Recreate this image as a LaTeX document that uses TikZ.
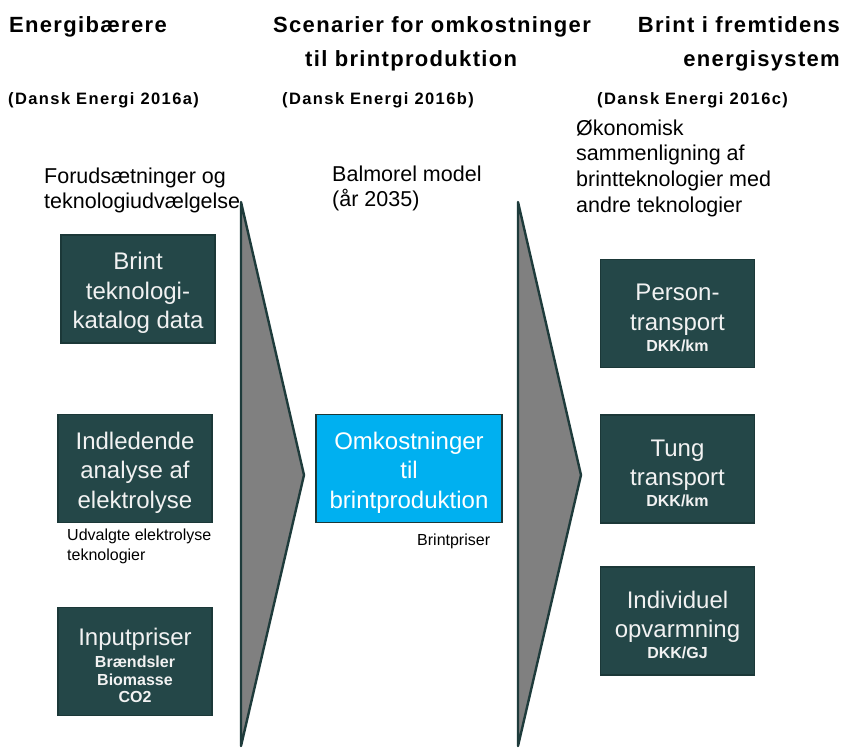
\documentclass[tikz,border=0pt]{standalone}
\usepackage{fontspec}
\setmainfont{Liberation Sans}
\newfontfamily\headfont[LetterSpace=6]{Liberation Sans}
\newfontfamily\srcfont[LetterSpace=8.5]{Liberation Sans}

\definecolor{boxfill}{HTML}{244748}
\definecolor{boxedge}{HTML}{1B3838}
\definecolor{boxtext}{HTML}{F2F2F2}
\definecolor{hcyan}{HTML}{00B0F0}
\definecolor{arrowfill}{HTML}{808080}
\definecolor{arrowedge}{HTML}{1E3B3B}

% small bold unit line inside a box
\newcommand{\subfont}{\fontsize{16}{17.5}\selectfont\bfseries}
% extra height on a box's first line, pushing its text block down a little
\newcommand{\topstrut}{\rule{0pt}{25.5pt}}

\begin{document}
\begin{tikzpicture}[x=1pt,y=-1pt,
  title/.style={inner sep=0pt, font=\headfont\bfseries\fontsize{22}{25}\selectfont},
  source/.style={inner sep=0pt, font=\srcfont\bfseries\fontsize{16.5}{19}\selectfont},
  note/.style={inner sep=0pt, anchor=north west, align=left, font=\fontsize{21.5}{25.7}\selectfont},
  smallnote/.style={inner sep=0pt, align=left, font=\fontsize{16}{20}\selectfont},
  darkbox/.style={draw=boxedge, fill=boxfill, line width=1.2pt, text=boxtext,
    minimum width=154pt, minimum height=108pt, inner sep=0pt, align=center,
    font=\fontsize{24}{29.5}\selectfont},
  cyanbox/.style={darkbox, fill=hcyan, minimum width=186pt, text=white},
  stagearrow/.style={draw=arrowedge, fill=arrowfill, line width=2.4pt, line join=round}
]
\useasboundingbox[fill=white] (0,0) rectangle (842,749);

% stage arrows
\draw[stagearrow] (241,202) -- (304,475) -- (241,746) -- cycle;
\draw[stagearrow] (518,202) -- (581,475) -- (518,746) -- cycle;

% column titles
\node[title, anchor=base west] (t1) at (9,32.5) {Energibærere};
\node[title, anchor=base west] (t2a) at (273,32.5) {Scenarier for omkostninger};
\node[title, anchor=base west] (t2b) at (305,67) {til brintproduktion};
\node[title, anchor=base east] (t3a) at (840,32.5) {Brint i fremtidens};
\node[title, anchor=base east] (t3b) at (840,67) {energisystem};

\node[source, anchor=base west] (s1) at (8,105) {(Dansk Energi 2016a)};
\node[source, anchor=base west] (s2) at (282,105) {(Dansk Energi 2016b)};
\node[source, anchor=base west] (s3) at (597,105) {(Dansk Energi 2016c)};

% column notes
\node[note] (n1) at (44,167.5) {Forudsætninger og\\teknologiudvælgelse};
\node[note] (n2) at (332,165.5) {Balmorel model\\(år 2035)};
\node[note] (n3) at (576,119.5) {Økonomisk\\sammenligning af\\brintteknologier med\\andre teknologier};

% input boxes
\node[darkbox] (b1) at (138,289) {\topstrut Brint\\teknologi-\\katalog data};
\node[darkbox] (b2) at (135,468.5) {\topstrut Indledende\\analyse af\\elektrolyse};
\node[darkbox] (b3) at (135,661.5) {\topstrut Inputpriser\\[-7pt]\subfont Brændsler\\[-12pt]\subfont Biomasse\\[-12pt]\subfont CO2};
\node[smallnote, anchor=north west] (u1) at (67,529) {Udvalgte elektrolyse\\teknologier};

% scenario box
\node[cyanbox] (c1) at (409,468.5) {\topstrut Omkostninger\\til\\brintproduktion};
\node[smallnote, anchor=base west] (p1) at (417,545) {Brintpriser};

% result boxes
\node[darkbox] (r1) at (677.5,313.5) {\topstrut Person-\\transport\\[-8.5pt]\subfont DKK/km};
\node[darkbox] (r2) at (677.5,469) {\topstrut Tung\\transport\\[-8.5pt]\subfont DKK/km};
\node[darkbox] (r3) at (677.5,621) {\topstrut Individuel\\opvarmning\\[-8.5pt]\subfont DKK/GJ};
\end{tikzpicture}
\end{document}
